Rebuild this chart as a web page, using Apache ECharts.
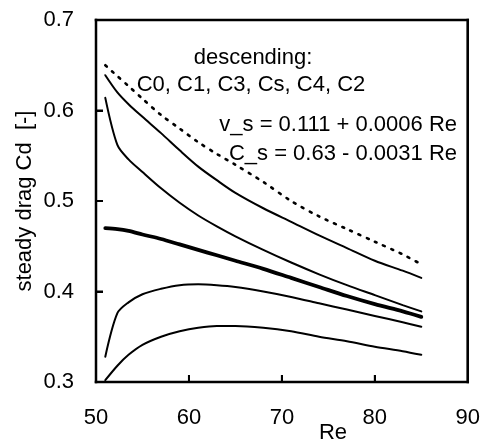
<!DOCTYPE html>
<html>
<head>
<meta charset="utf-8">
<script src="https://cdn.jsdelivr.net/npm/echarts@6/dist/echarts.min.js"></script>
<style>
html,body{margin:0;padding:0;background:#fff;}
#chart{width:483px;height:445px;}
</style>
</head>
<body>
<div id="chart"></div>
<script>
// Reynolds numbers (x)
var re = [51, 52.3, 53.5, 55, 57, 59, 61, 63, 65, 68, 71, 74, 77, 80, 83, 85];
// steady drag Cd for each case
var c0 = [0.650, 0.638, 0.627, 0.613, 0.595, 0.580, 0.565, 0.552, 0.540, 0.521, 0.500, 0.483, 0.469, 0.455, 0.441, 0.430];
var c1 = [0.639, 0.620, 0.607, 0.593, 0.575, 0.556, 0.538, 0.523, 0.509, 0.492, 0.477, 0.462, 0.448, 0.434, 0.423, 0.415];
var c3 = [0.614, 0.562, 0.546, 0.532, 0.514, 0.498, 0.484, 0.472, 0.461, 0.446, 0.432, 0.419, 0.407, 0.396, 0.385, 0.378];
var cs = [0.470, 0.469, 0.467, 0.463, 0.458, 0.452, 0.446, 0.440, 0.434, 0.425, 0.415, 0.405, 0.395, 0.386, 0.378, 0.372];
var c4 = [0.328, 0.376, 0.388, 0.397, 0.403, 0.407, 0.408, 0.407, 0.405, 0.400, 0.394, 0.387, 0.380, 0.373, 0.366, 0.361];
var c2 = [0.302, 0.318, 0.330, 0.341, 0.350, 0.356, 0.360, 0.362, 0.362, 0.360, 0.356, 0.350, 0.345, 0.339, 0.334, 0.330];

var xTicks = [50, 60, 70, 80, 90];
var yTicks = [0.3, 0.4, 0.5, 0.6, 0.7];
var texts = {
  desc: 'descending:',
  order: 'C0, C1, C3, Cs, C4, C2',
  vs: 'v_s = 0.111 + 0.0006 Re',
  csEq: 'C_s = 0.63 - 0.0031 Re',
  xName: 'Re',
  yName: 'steady drag Cd  [-]'
};

function pairs(ys) { return re.map(function (x, i) { return [x, ys[i]]; }); }

var FONT = '"Liberation Sans", Arial, Helvetica, sans-serif';
var chart = echarts.init(document.getElementById('chart'), null, {renderer: 'canvas'});

function lineSeries(name, ys, width, type) {
  return {
    name: name, type: 'line', data: pairs(ys), symbol: 'none', smooth: 0.3,
    lineStyle: {color: '#000', width: width, type: type || 'solid', cap: 'round'},
    z: 3, animation: false
  };
}

var xMin = xTicks[0], xMax = xTicks[xTicks.length - 1];
var yMin = yTicks[0], yMax = yTicks[yTicks.length - 1];

chart.setOption({
  animation: false,
  backgroundColor: '#fff',
  grid: {left: 96, right: 15, top: 20, bottom: 63, show: true, borderColor: '#000', borderWidth: 2, backgroundColor: 'rgba(0,0,0,0)'},
  xAxis: {
    type: 'value', min: xMin, max: xMax, interval: 10,
    axisLine: {show: true, onZero: false, lineStyle: {color: '#000', width: 2}},
    axisTick: {show: true, inside: true, length: 7, lineStyle: {color: '#000', width: 2}},
    axisLabel: {color: '#000', fontFamily: FONT, fontSize: 22, margin: 25},
    splitLine: {show: false}
  },
  yAxis: {
    type: 'value', min: yMin, max: yMax, interval: 0.1,
    axisLine: {show: true, onZero: false, lineStyle: {color: '#000', width: 2}},
    axisTick: {show: true, inside: true, length: 7, lineStyle: {color: '#000', width: 2}},
    axisLabel: {color: '#000', fontFamily: FONT, fontSize: 22, margin: 22,
      formatter: function (v) { return v.toFixed(1); }},
    splitLine: {show: false}
  },
  series: [
    lineSeries('C0', c0, 2.6, [2, 7]),
    lineSeries('C1', c1, 2),
    lineSeries('C3', c3, 2),
    lineSeries('Cs', cs, 3.8),
    lineSeries('C4', c4, 2),
    lineSeries('C2', c2, 2)
  ]
});

var p0 = chart.convertToPixel({gridIndex: 0}, [xMin, yMin]);
var p1 = chart.convertToPixel({gridIndex: 0}, [xMax, yMax]);
var g = [];
// frame as four filled bars
var bw = 2.5;
g.push({type: 'rect', shape: {x: p0[0] - bw / 2, y: p1[1] - bw / 2, width: p1[0] - p0[0] + bw, height: bw}, style: {fill: '#000'}, z: 20});
g.push({type: 'rect', shape: {x: p0[0] - bw / 2, y: p0[1] - bw / 2, width: p1[0] - p0[0] + bw, height: bw}, style: {fill: '#000'}, z: 20});
g.push({type: 'rect', shape: {x: p0[0] - bw / 2, y: p1[1] - bw / 2, width: bw, height: p0[1] - p1[1] + bw}, style: {fill: '#000'}, z: 20});
g.push({type: 'rect', shape: {x: p1[0] - bw / 2, y: p1[1] - bw / 2, width: bw, height: p0[1] - p1[1] + bw}, style: {fill: '#000'}, z: 20});
xTicks.slice(1, -1).forEach(function (v) {
  var px = chart.convertToPixel({gridIndex: 0}, [v, yMin])[0];
  g.push({type: 'rect', shape: {x: px - 1, y: p0[1] - 7, width: 2, height: 7}, style: {fill: '#000'}, z: 20});
});
yTicks.slice(1, -1).forEach(function (v) {
  var py = chart.convertToPixel({gridIndex: 0}, [xMin, v])[1];
  g.push({type: 'rect', shape: {x: p0[0], y: py - 1, width: 7, height: 2}, style: {fill: '#000'}, z: 20});
});
g.push({type: 'text', style: {text: texts.desc, x: 253, y: 47, font: '22px ' + FONT, fill: '#000', textAlign: 'center', textVerticalAlign: 'alphabetic'}});
g.push({type: 'text', style: {text: texts.order, x: 251, y: 74, font: '22px ' + FONT, fill: '#000', textAlign: 'center', textVerticalAlign: 'alphabetic'}});
g.push({type: 'text', style: {text: texts.vs, x: 457, y: 114, font: '22px ' + FONT, fill: '#000', textAlign: 'right', textVerticalAlign: 'alphabetic'}});
g.push({type: 'text', style: {text: texts.csEq, x: 457, y: 143, font: '22px ' + FONT, fill: '#000', textAlign: 'right', textVerticalAlign: 'alphabetic'}});
g.push({type: 'text', style: {text: texts.xName, x: 333, y: 433, font: '22px ' + FONT, fill: '#000', textAlign: 'center', textVerticalAlign: 'middle'}});
g.push({type: 'text', position: [25, 201], rotation: Math.PI / 2,
  style: {text: texts.yName, x: 0, y: 0, font: '22px ' + FONT, fill: '#000', textAlign: 'center', textVerticalAlign: 'middle'}});
chart.setOption({graphic: g});
</script>
</body>
</html>
